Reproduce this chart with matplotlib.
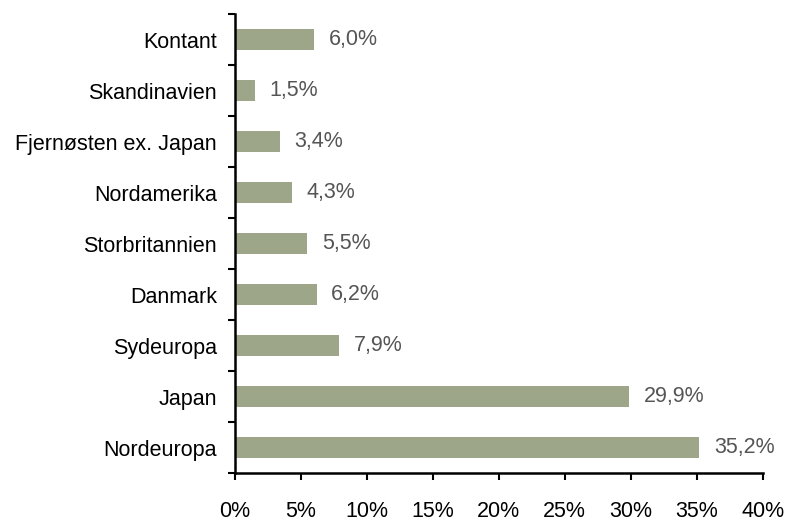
import numpy as np
import matplotlib
matplotlib.use("Agg")
import matplotlib.pyplot as plt
from matplotlib.ticker import FixedLocator, PercentFormatter

plt.rcParams["font.family"] = ["Liberation Sans", "DejaVu Sans"]

# Data (bottom to top)
regions = ["Nordeuropa", "Japan", "Sydeuropa", "Danmark", "Storbritannien",
           "Nordamerika", "Fjernøsten ex. Japan", "Skandinavien", "Kontant"]
shares = [35.2, 29.9, 7.9, 6.2, 5.5, 4.3, 3.4, 1.5, 6.0]
x_ticks = [0, 5, 10, 15, 20, 25, 30, 35, 40]

fig = plt.figure(figsize=(7.88, 5.21), dpi=100)
ax = fig.add_axes([0.298, 0.092, 0.670, 0.881])

y = np.arange(len(regions))
ax.barh(y, shares, height=0.4, color="#9ea68a", edgecolor="none")

for yi, v in zip(y, shares):
    ax.text(v + 1.1, yi, f"{v:.1f}%".replace(".", ","), va="center", ha="left",
            fontsize=15.5, color="#555555")

ax.set_xlim(0, 40)
ax.set_ylim(-0.5, len(regions) - 0.5)
ax.set_xticks(x_ticks)
ax.xaxis.set_major_formatter(PercentFormatter(decimals=0))
ax.set_yticks(y)
ax.set_yticklabels(regions)
ax.yaxis.set_minor_locator(FixedLocator(np.arange(-0.5, len(regions), 1.0)))

ax.tick_params(axis="y", which="major", length=0, pad=13, labelsize=15.5)
ax.tick_params(axis="y", which="minor", length=5, width=1.5)
ax.tick_params(axis="x", which="major", length=5, width=1.5, pad=15, labelsize=15.5)

for s in ["top", "right"]:
    ax.spines[s].set_visible(False)
for s in ["left", "bottom"]:
    ax.spines[s].set_linewidth(1.8)

fig.savefig("out.png", dpi=100)
